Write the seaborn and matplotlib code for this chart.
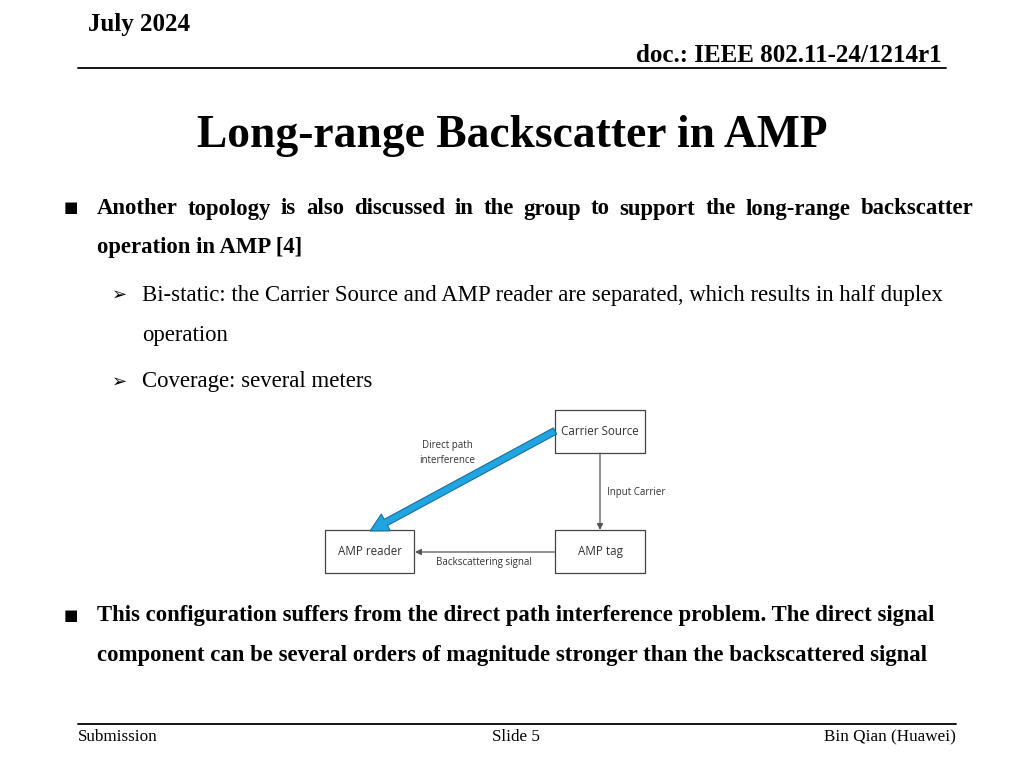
import matplotlib
matplotlib.use("Agg")
import matplotlib.pyplot as plt
import seaborn as sns
from matplotlib.patches import Rectangle, FancyArrow, FancyArrowPatch

sns.set_theme(style="white")
plt.rcParams['font.family'] = ['Liberation Serif', 'DejaVu Sans']
plt.rcParams['text.color'] = 'black'

# ---- text content ----
header_left = "July 2024"
header_right = "doc.: IEEE 802.11-24/1214r1"
title = "Long-range Backscatter in AMP"
bullet1_lines = ["Another topology is also discussed in the group to support the long-range backscatter",
                 "operation in AMP [4]"]
sub1_lines = ["Bi-static: the Carrier Source and AMP reader are separated, which results in half duplex",
              "operation"]
sub2_lines = ["Coverage: several meters"]
bullet2_lines = ["This configuration suffers from the direct path interference problem. The direct signal",
                 "component can be several orders of magnitude stronger than the backscattered signal"]
footer = ["Submission", "Slide 5", "Bin Qian (Huawei)"]
node_names = ["Carrier Source", "AMP tag", "AMP reader"]
edge_labels = ["Direct path\ninterference", "Input Carrier", "Backscattering signal"]

fig = plt.figure(figsize=(10.24, 7.68), dpi=100)
ax = fig.add_axes([0, 0, 1, 1])
ax.set_xlim(0, 1024)
ax.set_ylim(768, 0)
ax.axis("off")
fig.patch.set_facecolor("white")

serif = ['Liberation Serif', 'DejaVu Sans']
renderer = fig.canvas.get_renderer()
BODY = 16.4

def justify(words_line, x0, x1, y_base, **kw):
    words = words_line.split()
    objs = [ax.text(0, y_base, w, ha='left', va='baseline', color='black', **kw) for w in words]
    widths = [o.get_window_extent(renderer).width for o in objs]
    gap = (x1 - x0 - sum(widths)) / (len(words) - 1)
    x = x0
    for o, w in zip(objs, widths):
        o.set_x(x)
        x += w + gap

def txt(x, y, s, **kw):
    kw.setdefault('family', serif)
    kw.setdefault('color', 'black')
    kw.setdefault('va', 'center')
    return ax.text(x, y, s, **kw)

# header
txt(88, 24, header_left, ha='left', fontsize=18, fontweight='bold')
txt(942, 55, header_right, ha='right', fontsize=18, fontweight='bold')
ax.plot([78, 946], [68, 68], color='black', lw=1.3)

# title
txt(512, 136, title, ha='center', fontsize=32.8, fontweight='bold')

# bullet 1
txt(64, 208, "\u25A0", ha='left', fontsize=11, family=['DejaVu Sans'])
justify(bullet1_lines[0], 97, 973, 214.5, fontsize=BODY, fontweight='bold', family=serif)
txt(97, 248, bullet1_lines[1], ha='left', fontsize=BODY, fontweight='bold')

# sub bullets
txt(112, 295, "\u27A2", ha='left', fontsize=13, family=['DejaVu Sans'])
txt(142, 295, sub1_lines[0], ha='left', fontsize=BODY)
txt(142, 336, sub1_lines[1], ha='left', fontsize=BODY)
txt(112, 382, "\u27A2", ha='left', fontsize=13, family=['DejaVu Sans'])
txt(142, 382, sub2_lines[0], ha='left', fontsize=BODY)

# diagram
dfont = ['Open Sans', 'DejaVu Sans']
boxes = {node_names[0]: (555, 410, 90, 43),
         node_names[1]: (555, 530, 90, 43),
         node_names[2]: (325, 530, 89, 43)}
for name, (bx, by, bw, bh) in boxes.items():
    ax.add_patch(Rectangle((bx, by), bw, bh, facecolor='white', edgecolor='#444444', lw=0.9))
    txt(bx + bw / 2, by + bh / 2, name, ha='center', fontsize=8.4, color='#333333', family=dfont)

# direct path (blue arrow)
ax.add_patch(FancyArrow(555, 431, 370 - 555, 531 - 431, width=7, head_width=19, head_length=18,
                        length_includes_head=True, facecolor='#1fa5df', edgecolor='#1c6e9e', lw=0.8))
txt(447, 453, edge_labels[0], ha='center', fontsize=7, color='#333333', family=dfont, linespacing=1.4)

# input carrier
ax.add_patch(FancyArrowPatch((600, 453), (600, 530), arrowstyle='-|>', mutation_scale=9,
                             color='#555555', lw=0.9, shrinkA=0, shrinkB=0))
txt(607, 492, edge_labels[1], ha='left', fontsize=7, color='#333333', family=dfont)

# backscattering
ax.add_patch(FancyArrowPatch((555, 552), (415, 552), arrowstyle='-|>', mutation_scale=9,
                             color='#555555', lw=0.9, shrinkA=0, shrinkB=0))
txt(484, 562, edge_labels[2], ha='center', fontsize=7, color='#333333', family=dfont)

# bullet 2
txt(64, 615, "\u25A0", ha='left', fontsize=11, family=['DejaVu Sans'])
txt(97, 615, bullet2_lines[0], ha='left', fontsize=BODY, fontweight='bold')
txt(97, 656, bullet2_lines[1], ha='left', fontsize=BODY, fontweight='bold')

# footer
ax.plot([78, 956], [724, 724], color='black', lw=1.3)
txt(78, 737, footer[0], ha='left', fontsize=12.3)
txt(516, 737, footer[1], ha='center', fontsize=12.3)
txt(956, 737, footer[2], ha='right', fontsize=12.3)

fig.savefig("out.png", dpi=100, facecolor='white')
